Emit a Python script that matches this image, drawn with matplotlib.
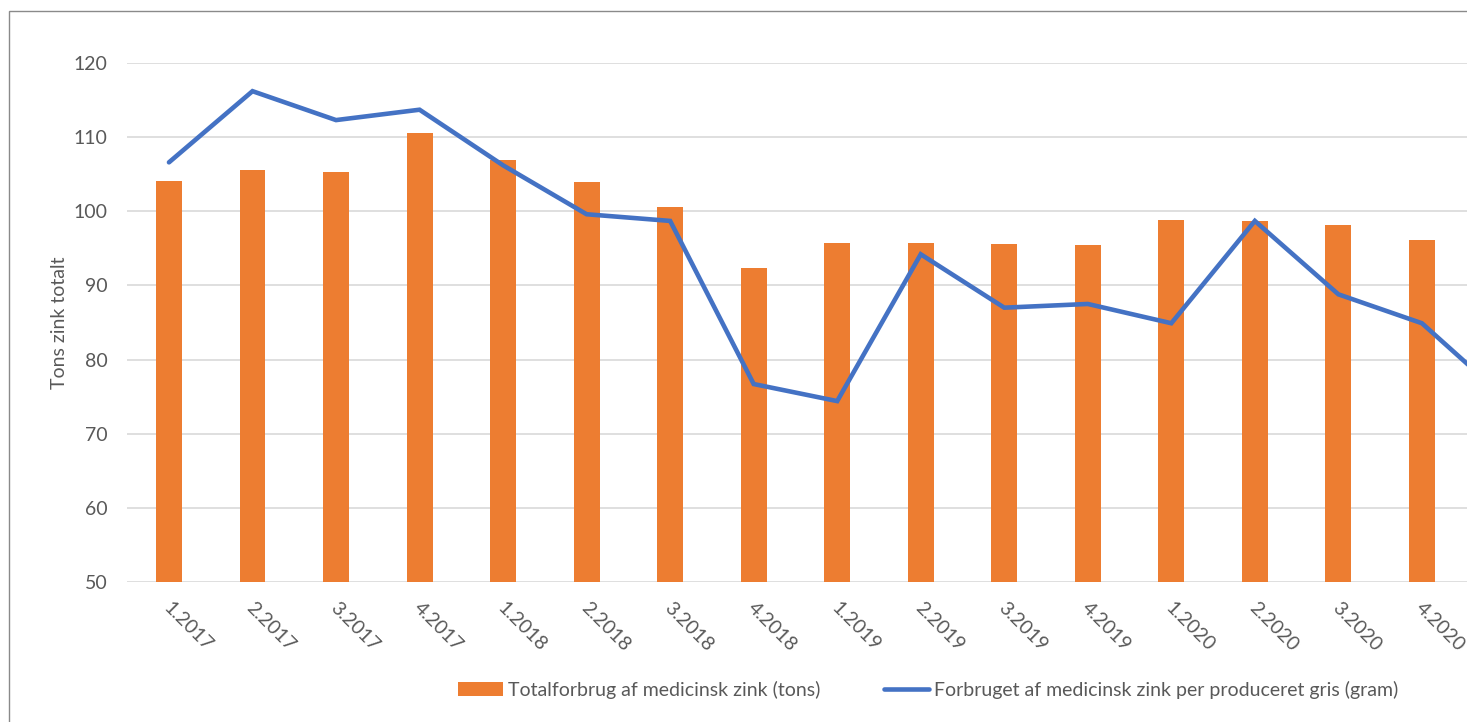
import matplotlib
matplotlib.use("Agg")
import matplotlib.pyplot as plt
import matplotlib.transforms as mtransforms
from matplotlib.patches import Rectangle
import numpy as np

plt.rcParams['font.family'] = ['Lato', 'DejaVu Sans']

categories = ["1.2017", "2.2017", "3.2017", "4.2017",
              "1.2018", "2.2018", "3.2018", "4.2018",
              "1.2019", "2.2019", "3.2019", "4.2019",
              "1.2020", "2.2020", "3.2020", "4.2020", "1.2021"]
total_tons = [104.1, 105.6, 105.3, 110.6, 106.9, 104.0, 100.6, 92.4,
              95.7, 95.7, 95.6, 95.5, 98.8, 98.7, 98.2, 96.1]
per_pig_gram = [106.6, 116.2, 112.3, 113.7, 106.2, 99.6, 98.7, 76.7,
                74.4, 94.2, 87.0, 87.5, 84.9, 98.7, 88.8, 84.9, 74.8]
yticks = [50, 60, 70, 80, 90, 100, 110, 120]

bar_label = "Totalforbrug af medicinsk zink (tons)"
line_label = "Forbruget af medicinsk zink per produceret gris (gram)"
ylabel = "Tons zink totalt"

W, H = 1467, 722
FS = 14
fig = plt.figure(figsize=(W / 100, H / 100), dpi=100)
fig.patch.set_facecolor("white")

# outer chart frame (cropped on right/bottom)
fig.add_artist(Rectangle((8.5 / W, -0.2), 2.0, (H - 11.5) / H + 0.2,
                         transform=fig.transFigure, fill=False,
                         edgecolor="#8a8a8a", linewidth=1.0))

ax = fig.add_axes([127.2 / W, 140 / H, (17 * 83.53) / W, 519 / H])

x = np.arange(len(categories))
bars = ax.bar(x[:len(total_tons)], total_tons, width=0.31, color="#ED7D31",
              zorder=2, label=bar_label, bottom=0)
line, = ax.plot(x[:len(per_pig_gram)], per_pig_gram, color="#4472C4",
                linewidth=3.3, zorder=3, label=line_label,
                solid_joinstyle="miter", solid_capstyle="round")

ax.set_xlim(-0.5, len(categories) - 0.5)
ax.set_ylim(50, 120)
ax.set_yticks(yticks)
ax.yaxis.grid(True, color="#D9D9D9", linewidth=1.2, zorder=0)
ax.set_axisbelow(True)
for s in ax.spines.values():
    s.set_visible(False)

ax.tick_params(axis="both", length=0, colors="#595959", labelsize=FS)
ax.tick_params(axis="y", pad=14)
ax.tick_params(axis="x", pad=12)
# only the categories that fall inside the visible (cropped) area get labels
nvis = len(total_tons)
ax.set_xticks(x[:nvis])
ax.set_xticklabels(categories[:nvis], rotation=-45, ha="left", va="top",
                   rotation_mode="default")
offset = mtransforms.ScaledTranslation(-9 / 100, 0, fig.dpi_scale_trans)
for lbl in ax.get_xticklabels():
    lbl.set_transform(lbl.get_transform() + offset)

ax.set_ylabel(ylabel, color="#595959", fontsize=FS, labelpad=4)

leg = fig.legend(handles=[bars, line], labels=[bar_label, line_label],
                 loc="center", bbox_to_anchor=(928 / W, 32 / H), ncol=2,
                 frameon=False, fontsize=FS, handlelength=2.3,
                 handleheight=0.75, handletextpad=0.25, columnspacing=3.3,
                 labelcolor="#595959")

fig.savefig("out.png", dpi=100, facecolor="white")
